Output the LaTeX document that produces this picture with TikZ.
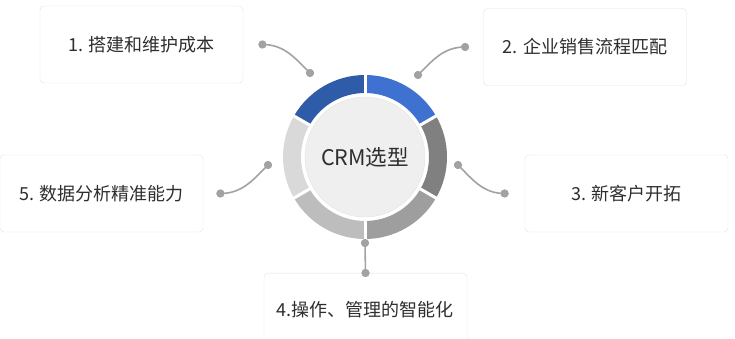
\documentclass[tikz,border=0pt]{standalone}
\usepackage{fontspec}
\setmainfont{Noto Sans CJK SC}
\usepackage{xcolor}
\usepackage{tikz}
\usetikzlibrary{positioning}
\definecolor{RingBlueDark}{HTML}{2F5CA8}
\definecolor{RingBlue}{HTML}{3F71D0}
\definecolor{RingGrayA}{HTML}{808080}
\definecolor{RingGrayB}{HTML}{9E9E9E}
\definecolor{RingGrayC}{HTML}{BDBDBD}
\definecolor{RingGrayD}{HTML}{D9D9D9}
\definecolor{LinkGray}{HTML}{A2A2A2}
\definecolor{BoxBorder}{HTML}{E2E2E2}
\definecolor{CoreFill}{HTML}{EFEFEF}
\definecolor{TextDark}{HTML}{2E2E2E}

\begin{document}
\begin{tikzpicture}[x=1pt, y=1pt,
  itembox/.style={draw=BoxBorder, fill=white, rounded corners=4pt, minimum width=203pt, minimum height=77pt, inner sep=0pt, font=\fontsize{18}{22}\selectfont\color{TextDark}},
  pindot/.style={circle, fill=LinkGray, minimum size=8pt, inner sep=0pt},
  link/.style={draw=LinkGray, line width=1.6pt}]
  \useasboundingbox (0,0) rectangle (735,339);
  \clip (0,0) rectangle (735,339);

  % Ring segments
  \begin{scope}[shift={(365,182)}]
    \foreach \a/\col in {90/RingBlueDark, 30/RingBlue, -30/RingGrayA, -90/RingGrayB, -150/RingGrayC, 150/RingGrayD} {
      \fill[\col] (\a:64) arc[start angle=\a, end angle=\a+60, radius=64]
        -- (\a+60:82) arc[start angle=\a+60, end angle=\a, radius=82] -- cycle;
    }
    % Gaps between segments
    \foreach \a in {30,90,150,210,270,330} {
      \draw[white, line width=3pt] (\a:62) -- (\a:84);
    }
    \fill[CoreFill, draw=BoxBorder] (0,0) circle (60);
  \end{scope}
  \node[font=\fontsize{21.5}{26}\selectfont\color{TextDark}] (core) at (365,182) {CRM选型};

  % Item boxes
  \node[itembox] (b1) at (141.5,294.5) {1. 搭建和维护成本};
  \node[itembox] (b2) at (585,292) {2. 企业销售流程匹配};
  \node[itembox] (b3) at (626.5,145.5) {3. 新客户开拓};
  \node[itembox, anchor=north] (b4) at (365.5,66) {};
  \node[font=\fontsize{18}{22}\selectfont\color{TextDark}] (t4) at (365,29) {4.操作、管理的智能化};
  \node[itembox] (b5) at (101.5,145.5) {5. 数据分析精准能力};

  % Dots near the ring
  \node[pindot] (p1) at (310,266) {};
  \node[pindot] (p2) at (418,264) {};
  \node[pindot] (p3) at (458,174) {};
  \node[pindot] (p4) at (365,96) {};
  \node[pindot] (p5) at (268,174) {};

  % Dots near the boxes
  \node[pindot, right=15pt of b1] (d1) {};
  \node[pindot, left=14pt of b2] (d2) {};
  \node[pindot, left=16pt of b3] (d3) {};
  \node[pindot] (d4) at (b4.north) {};
  \node[pindot, right=13pt of b5] (d5) {};

  % Connectors
  \draw[link] (d1.center) to[out=0, in=135] (p1.center);
  \draw[link] (d2.center) to[out=180, in=45] (p2.center);
  \draw[link] (d3.center) to[out=180, in=-45] (p3.center);
  \draw[link] (d4.center) -- (p4.center);
  \draw[link] (d5.center) to[out=0, in=225] (p5.center);
  \foreach \n in {p1,p2,p3,p4,p5,d1,d2,d3,d4,d5} {
    \fill[LinkGray] (\n) circle (4);
  }
\end{tikzpicture}
\end{document}
